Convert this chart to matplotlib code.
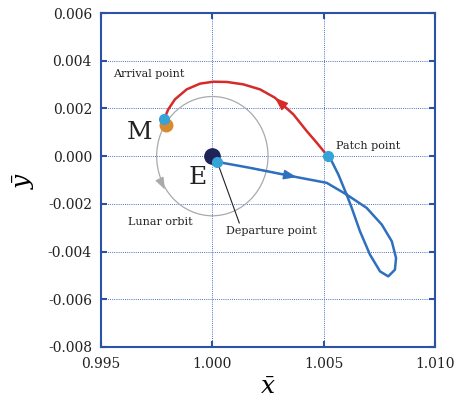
import matplotlib.pyplot as plt
from matplotlib.patches import Circle

plt.rcParams['font.family'] = 'DejaVu Serif'
plt.rcParams['mathtext.fontset'] = 'dejavuserif'
plt.rcParams['axes.unicode_minus'] = False

# red arc: patch point -> arrival point
red_x = [1.00518, 1.00469, 1.00424, 1.00364, 1.00281, 1.00214, 1.00139, 1.00065,
         1.00004, 0.99945, 0.99885, 0.99832, 0.99802, 0.99783]
red_y = [0.0, 0.00056, 0.00105, 0.00175, 0.00245, 0.0028, 0.00301, 0.00311,
         0.00312, 0.00304, 0.0028, 0.00238, 0.00196, 0.00154]

# blue leg: departure point -> loop -> patch point
blue_x = [1.00022, 1.00169, 1.00379, 1.00514, 1.00603, 1.00693, 1.00761, 1.00806,
          1.00825, 1.0082, 1.0079, 1.00753, 1.00708, 1.00663, 1.00626, 1.00603,
          1.00566, 1.00536, 1.00518]
blue_y = [-0.00024, -0.00049, -0.00088, -0.00112, -0.00161, -0.00217, -0.00287, -0.00357,
          -0.00427, -0.00476, -0.00504, -0.00483, -0.00413, -0.00315, -0.00217, -0.00161,
          -0.00077, -0.00021, 0.0]

earth = (1.0, 0.0)
moon = (0.99792, 0.0013)
departure = (1.00022, -0.00024)
patch = (1.00518, 0.0)
arrival = (0.99783, 0.00157)
orbit_r = 0.0025

xticks = [0.995, 1.000, 1.005, 1.010]
yticks = [0.006, 0.004, 0.002, 0.000, -0.002, -0.004, -0.006, -0.008]

frame = '#2a52a6'
red = '#d62b2b'
blue = '#2f6fbf'
dot = '#35a3d6'
head = '-|>,head_length=0.8,head_width=0.3'

fig = plt.figure(figsize=(4.71, 4.03), dpi=100)
ax = fig.add_axes([0.2144, 0.139, 0.7092, 0.8287])

ax.add_patch(Circle(earth, orbit_r, fill=False, color='#aaaaaa', lw=0.9, zorder=2))
ax.annotate('', xy=(0.99787, -0.0014), xytext=(0.99772, -0.00112),
            arrowprops=dict(arrowstyle=head, color='#aaaaaa', lw=0.9, mutation_scale=9,
                            shrinkA=0, shrinkB=0))

ax.plot(red_x, red_y, color=red, lw=1.8, zorder=3, solid_joinstyle='round')
ax.plot(blue_x, blue_y, color=blue, lw=1.8, zorder=3, solid_joinstyle='round')

# direction arrows
ax.annotate('', xy=(red_x[4], red_y[4]), xytext=(red_x[3], red_y[3]),
            arrowprops=dict(arrowstyle=head, color=red, lw=1, mutation_scale=10,
                            shrinkA=0, shrinkB=0), zorder=4)
ax.annotate('', xy=(blue_x[2], blue_y[2]), xytext=(blue_x[1], blue_y[1]),
            arrowprops=dict(arrowstyle=head, color=blue, lw=1, mutation_scale=10,
                            shrinkA=0, shrinkB=0), zorder=4)

ax.plot([departure[0], 1.00121], [departure[1], -0.0028], color='#222222', lw=0.8, zorder=4)

ax.plot(*earth, 'o', color='#1e2458', ms=11, zorder=5)
ax.plot(*moon, 'o', color='#d98a2e', ms=9, zorder=5)
for p in (departure, patch, arrival):
    ax.plot(*p, 'o', color=dot, ms=7, zorder=6)

ax.text(0.99553, 0.00345, 'Arrival point', fontsize=8, va='center', color='#222222')
ax.text(1.00555, 0.00042, 'Patch point', fontsize=8, va='center', color='#222222')
ax.text(0.99621, -0.00276, 'Lunar orbit', fontsize=8, va='center', color='#222222')
ax.text(1.00060, -0.00315, 'Departure point', fontsize=8, va='center', color='#222222')
ax.text(0.99675, 0.00098, 'M', fontsize=18, ha='center', va='center', color='#222222')
ax.text(0.99936, -0.00091, 'E', fontsize=18, ha='center', va='center', color='#222222')

ax.set_xlim(0.995, 1.010)
ax.set_ylim(-0.008, 0.006)
ax.set_xticks(xticks)
ax.set_yticks(yticks)
ax.set_xticklabels([f'{v:.3f}' for v in xticks])
ax.set_yticklabels([f'{v:.3f}' for v in yticks])
ax.grid(True, color='#4a70c8', ls=(0, (1, 1.2)), lw=0.7)
ax.tick_params(direction='in', top=True, right=True, color=frame, width=1.5, length=4,
               labelsize=10, labelcolor='#222222')
ax.tick_params(axis='y', pad=6.5)
ax.tick_params(axis='x', pad=7)
for s in ax.spines.values():
    s.set_color(frame)
    s.set_linewidth(1.5)

ax.set_xlabel(r'$\bar{x}$', fontsize=18, labelpad=4)
ax.set_ylabel(r'$\bar{y}$', fontsize=18, labelpad=8)

fig.savefig('out.png', dpi=100)
